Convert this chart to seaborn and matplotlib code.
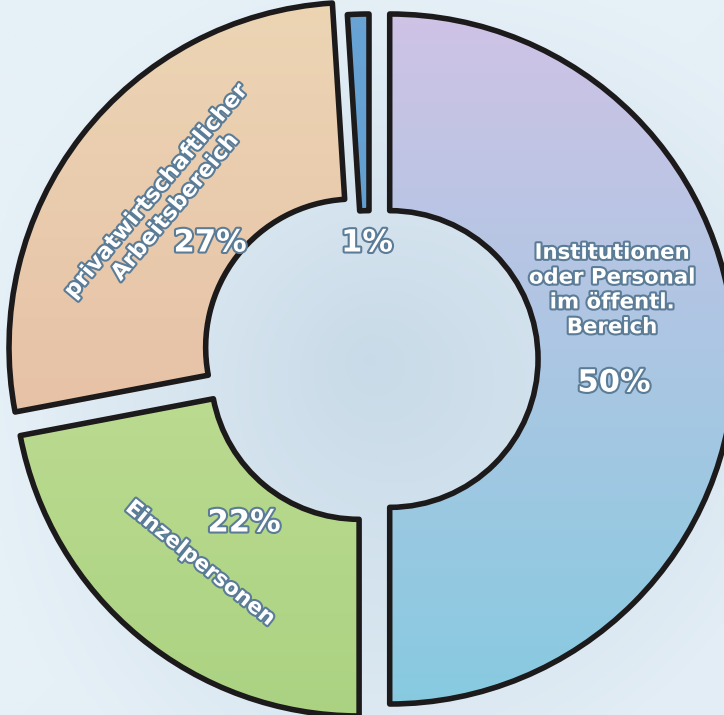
import numpy as np
import matplotlib
matplotlib.use("Agg")
import matplotlib.pyplot as plt
import matplotlib.patheffects as pe
from matplotlib.colors import LinearSegmentedColormap
import seaborn as sns

# Share of applicants by sector (clockwise from 12 o'clock)
categories = ["Institutionen\noder Personal\nim öffentl.\nBereich",
              "Einzelpersonen",
              "privatwirtschaftlicher\nArbeitsbereich",
              "Sonstige"]
shares = [50, 22, 27, 1]

# watercolour washes per sector: (top colour, bottom colour)
washes = [("#D6C2E6", "#80CBE0"),
          ("#D2E6A4", "#A8D17F"),
          ("#EDD8B6", "#E2B09A"),
          ("#6AA5D6", "#5690C8")]
explode = [0.06, 0.045, 0.055, 0.0]

sns.set_theme(style="white")
plt.rcParams["font.family"] = ["DejaVu Sans"]

W, H = 724, 715
fig = plt.figure(figsize=(W / 100, H / 100), dpi=100)
ax = fig.add_axes([0, 0, 1, 1])
scale = 345.0
cx, cy = 369.0, 359.0
xmin, xmax = -cx / scale, (W - cx) / scale
ymin, ymax = -(H - cy) / scale, cy / scale

wedges, _ = ax.pie(shares, startangle=90, counterclock=False, radius=1.0,
                   explode=explode, colors=[w[1] for w in washes],
                   wedgeprops=dict(width=0.57, edgecolor="#1C1A1A", linewidth=4.0,
                                   joinstyle="round"))

# paper background: pale blue, whiter towards the upper left
gx, gy = np.meshgrid(np.linspace(xmin, xmax, 300), np.linspace(ymax, ymin, 300))
r = np.sqrt(gx ** 2 + gy ** 2)
t = np.clip(1 - r / 1.3, 0, 1) * 0.8 + np.clip((gy - gx) / 4, -0.2, 0.2) * -0.5
bg_cmap = LinearSegmentedColormap.from_list("paper", ["#E6F0F7", "#C5D8E6"])
ax.imshow(t, extent=(xmin, xmax, ymin, ymax), cmap=bg_cmap, vmin=0, vmax=0.9,
          zorder=0, interpolation="bilinear", aspect="auto")

vert = np.linspace(1, 0, 200)[:, None] * np.ones((1, 200))
for wedge, (c_top, c_bot) in zip(wedges, washes):
    cmap = LinearSegmentedColormap.from_list("wash", [c_bot, c_top])
    im = ax.imshow(vert, extent=(-1.2, 1.2, -1.2, 1.2), cmap=cmap, vmin=0, vmax=1,
                   zorder=2, interpolation="bilinear", aspect="auto")
    im.set_clip_path(wedge)
    wedge.set_facecolor("none")
    wedge.set_zorder(3)

ax.set_xlim(xmin, xmax)
ax.set_ylim(ymin, ymax)
ax.set_aspect("equal")
ax.axis("off")

outline = [pe.withStroke(linewidth=3.0, foreground="#5B7C97")]
txt = dict(color="white", fontweight="bold", ha="center", va="center",
           path_effects=outline, zorder=5)

def at(px, py):
    """pixel position on the canvas -> data coordinates"""
    return (px - cx) / scale, (cy - py) / scale

ax.text(*at(612, 290), categories[0], fontsize=15.3, linespacing=1.3, **txt)
ax.text(*at(614, 383), f"{shares[0]}%", fontsize=22, **txt)
ax.text(*at(200, 563), categories[1], fontsize=15.5, rotation=-39,
        rotation_mode="anchor", **txt)
ax.text(*at(244, 523), f"{shares[1]}%", fontsize=22, **txt)
ax.text(*at(166, 199), categories[2], fontsize=16, rotation=50,
        rotation_mode="anchor", linespacing=1.3, **txt)
ax.text(*at(210, 243), f"{shares[2]}%", fontsize=22, **txt)
ax.text(*at(367, 243), f"{shares[3]}%", fontsize=22, **txt)

fig.savefig("out.png", dpi=100)
